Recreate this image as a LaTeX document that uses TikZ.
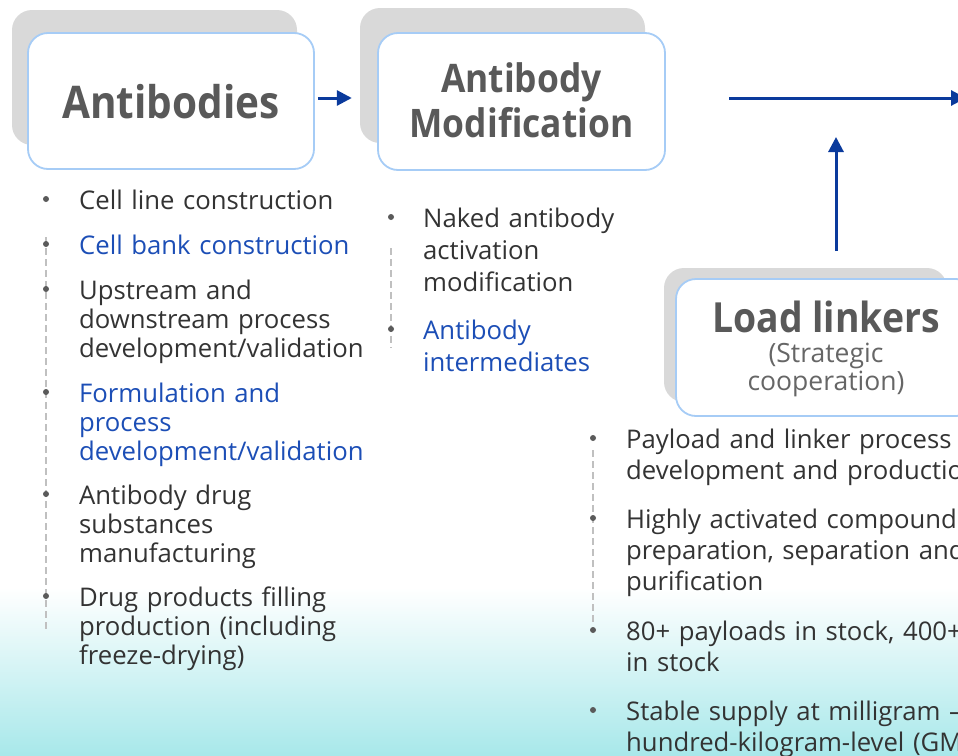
\documentclass[tikz,border=0pt]{standalone}
\usepackage{fontspec}
\setmainfont{Open Sans}
\newfontfamily\headfont{Open Sans}[FakeStretch=0.9]
\usetikzlibrary{arrows.meta,backgrounds}

\definecolor{flowblue}{RGB}{10,58,156}
\definecolor{linkblue}{RGB}{28,78,182}
\definecolor{bodytext}{RGB}{51,51,51}
\definecolor{headgray}{RGB}{89,89,89}
\definecolor{subgray}{RGB}{102,102,102}
\definecolor{dotgray}{RGB}{90,90,90}
\definecolor{shadowgray}{RGB}{217,217,217}
\definecolor{edgeblue}{RGB}{166,204,246}
\definecolor{guidegray}{RGB}{192,192,192}
\definecolor{aqua}{RGB}{168,232,234}

\begin{document}
\begin{tikzpicture}[x=1pt,y=-1pt,
  shadowbox/.style={fill=shadowgray, rounded corners=20pt, inner sep=0pt},
  titlebox/.style={draw=edgeblue, line width=1.8pt, fill=white, rounded corners=20pt, inner sep=0pt},
  flow/.style={draw=flowblue, line width=3pt, -{Triangle[length=15pt,width=15pt]}},
  item/.style={anchor=base west, align=left, text width=390pt, inner sep=0pt, text=bodytext},
  itemL/.style={item, font=\fontsize{25.7}{29}\selectfont},
  itemM/.style={item, font=\fontsize{25.7}{32}\selectfont},
  itemR/.style={item, font=\fontsize{25.7}{31.3}\selectfont},
  hl/.style={text=linkblue},
  dot/.style={circle, fill=dotgray, draw=none, inner sep=0pt, minimum size=6pt},
  guide/.style={draw=guidegray, line width=1.5pt, dash pattern=on 7pt off 4pt},
  head/.style={text=headgray, inner sep=0pt, anchor=base},
  sub/.style={text=subgray, inner sep=0pt, anchor=base, font=\fontsize{26.5}{28}\selectfont}
]
\useasboundingbox (0,0) rectangle (958,755);
\clip (0,0) rectangle (958,755);

% soft aqua fade along the bottom
\begin{pgfonlayer}{background}
  \shade[top color=white, bottom color=aqua] (0,588) rectangle (958,755);
\end{pgfonlayer}

% stage boxes with their grey offset plates
\node[shadowbox, minimum width=285pt, minimum height=135pt] (abshadow) at (154.5,77.5) {};
\node[titlebox, minimum width=286pt, minimum height=136pt] (ab) at (171,101) {};
\node[head, font=\headfont\bfseries\fontsize{45}{50}\selectfont] (abt) at (171,118) {Antibodies};

\node[shadowbox, minimum width=285pt, minimum height=135pt] (modshadow) at (502.5,75.5) {};
\node[titlebox, minimum width=287pt, minimum height=137pt] (mod) at (521.5,101.5) {};
\node[head, font=\headfont\bfseries\fontsize{39.3}{44}\selectfont] (modt1) at (521.5,92) {Antibody};
\node[head, font=\headfont\bfseries\fontsize{39.3}{44}\selectfont] (modt2) at (521.5,137) {Modification};

\node[shadowbox, minimum width=283pt, minimum height=134pt] (loadshadow) at (805.5,335) {};
\node[titlebox, minimum width=300pt, minimum height=137pt] (load) at (826,347.5) {};
\node[head, font=\headfont\bfseries\fontsize{41.5}{46}\selectfont] (loadt) at (826,332) {Load linkers};
\node[sub] (loads1) at (826,362) {(Strategic};
\node[sub] (loads2) at (826,390) {cooperation)};

% flow arrows
\draw[flow, shorten <=3pt, shorten >=8pt] ([yshift=3pt]ab.east) -- ([yshift=3pt]ab.east -| modshadow.west);
\coordinate (outA) at (729,98);
\coordinate (outB) at (966,98);
\draw[flow] (outA) -- (outB);
\coordinate (upTip) at (836,137);
\draw[flow, shorten <=27pt] (load.north -| upTip) -- (upTip);

% antibody services
\node[itemL] (l1) at (79,209) {Cell line construction};
\node[itemL, hl] (l2) at (79,254) {Cell bank construction};
\node[itemL] (l3) at (79,299) {Upstream and\\downstream process\\development/validation};
\node[itemL, hl] (l4) at (79,402) {Formulation and\\process\\development/validation};
\node[itemL] (l5) at (79,504) {Antibody drug\\substances\\manufacturing};
\node[itemL] (l6) at (79,606) {Drug products filling\\production (including\\freeze-drying)};
\foreach \i in {1,...,6}
  \node[dot] (dL\i) at ([xshift=-33pt,yshift=10pt]l\i.base west) {};

% modification services
\node[itemM] (m1) at (423,227) {Naked antibody\\activation\\modification};
\node[itemM, hl] (m2) at (423,339) {Antibody\\intermediates};
\foreach \i in {1,2}
  \node[dot] (dM\i) at ([xshift=-32pt,yshift=10pt]m\i.base west) {};

% payload and linker services
\node[itemR] (r1) at (626,448) {Payload and linker process\\development and production};
\node[itemR] (r2) at (626,528) {Highly activated compounds\\preparation, separation and\\purification};
\node[itemR] (r3) at (626,640) {80+ payloads in stock, 400+\\in stock};
\node[itemR] (r4) at (626,720) {Stable supply at milligram –\\hundred-kilogram-level (GMP)};
\foreach \i in {1,...,4}
  \node[dot] (dR\i) at ([xshift=-33pt,yshift=10pt]r\i.base west) {};

% dashed guides behind the bullets
\begin{pgfonlayer}{background}
  \draw[guide] ([yshift=7pt]dL2.center) -- ([yshift=-36pt]dL6.center);
  \draw[guide] ([yshift=-31pt]dM1.center) -- ([yshift=-19pt]dM2.center);
  \draw[guide] ([yshift=-12pt]dR1.center) -- ([yshift=7pt]dR3.center);
\end{pgfonlayer}
\end{tikzpicture}
\end{document}
